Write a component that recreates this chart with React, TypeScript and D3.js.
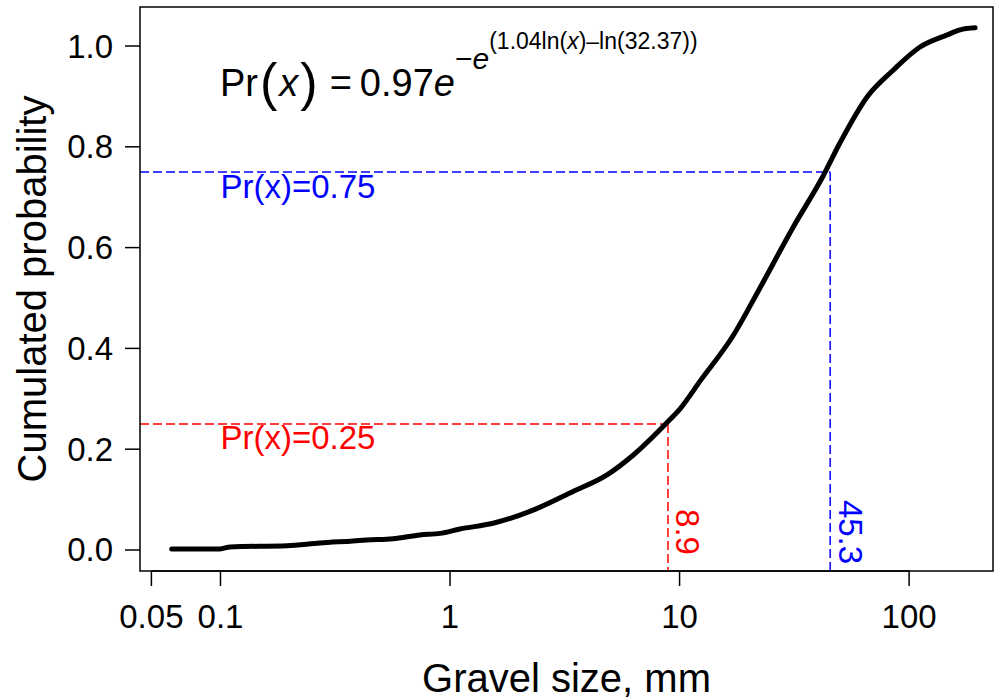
import * as d3 from "d3";
import { useEffect, useRef } from "react";

const gravelSize = [
  0.0613, 0.0995, 0.11, 0.195, 0.2714, 0.378, 0.4347, 0.5646, 0.74, 0.905, 1.105,
  1.539, 2.3, 3.435, 4.83, 6.27, 8.82, 10.05, 12.28, 17.1, 22.4, 31.2, 42.2, 50.0,
  65.6, 85.2, 111.6, 146.5, 166.7, 194,
];
const cumProb = [
  0.002, 0.002, 0.006, 0.0085, 0.0139, 0.0179, 0.0198, 0.0224, 0.0298, 0.033, 0.0417,
  0.053, 0.079, 0.116, 0.149, 0.188, 0.253, 0.28, 0.335, 0.425, 0.52, 0.64, 0.742,
  0.808, 0.899, 0.952, 0.998, 1.022, 1.032, 1.036,
];

const xTicks = [0.05, 0.1, 1, 10, 100];
const xTickLabels = ["0.05", "0.1", "1", "10", "100"];
const yTicks = [0, 0.2, 0.4, 0.6, 0.8, 1.0];

const quantileProbs = [0.25, 0.75];
const quantileSizes = [8.9, 45.3];
const quantileColors = ["#ff0000", "#0000ff"];
const quantileLabels = ["Pr(x)=0.25", "Pr(x)=0.75"];
const quantileTextY = [0.224, 0.722];

const W = 996;
const H = 699;
const left = 140;
const right = 993;
const top = 7;
const bottom = 571;
const font = "'Liberation Sans', Arial, Helvetica, sans-serif";

const App = () => {
  const ref = useRef<SVGSVGElement>(null);

  useEffect(() => {
    const svg = d3.select(ref.current);
    svg.selectAll("*").remove();

    const x = d3.scaleLog().domain([0.0446, 232]).range([left, right]);
    const y = d3.scaleLinear().domain([-0.0417, 1.0774]).range([bottom, top]);

    // quantile guides
    quantileProbs.forEach((p, i) => {
      const col = quantileColors[i];
      const g = svg.append("g").attr("stroke", col).attr("stroke-width", 1.5)
        .attr("stroke-dasharray", "9,4").attr("fill", "none");
      g.append("line").attr("x1", left).attr("x2", x(quantileSizes[i]))
        .attr("y1", y(p)).attr("y2", y(p));
      g.append("line").attr("x1", x(quantileSizes[i])).attr("x2", x(quantileSizes[i]))
        .attr("y1", y(p)).attr("y2", bottom);

      svg.append("text").attr("x", x(0.1)).attr("y", y(quantileTextY[i]))
        .attr("dominant-baseline", "central").attr("fill", col)
        .attr("font-family", font).attr("font-size", 33)
        .text(quantileLabels[i]);

      const tx = x(quantileSizes[i]) + 20;
      const ty = 532;
      svg.append("text").attr("transform", `translate(${tx},${ty}) rotate(90)`)
        .attr("text-anchor", "middle").attr("dominant-baseline", "central")
        .attr("fill", col).attr("font-family", font).attr("font-size", 33)
        .text(String(quantileSizes[i]));
    });

    // curve
    const line = d3.line<number>()
      .x((d, i) => x(gravelSize[i]))
      .y((d) => y(d))
      .curve(d3.curveMonotoneX);
    svg.append("path").datum(cumProb).attr("d", line)
      .attr("fill", "none").attr("stroke", "black").attr("stroke-width", 5)
      .attr("stroke-linejoin", "round").attr("stroke-linecap", "round");

    // box
    svg.append("rect").attr("x", left).attr("y", top)
      .attr("width", right - left).attr("height", bottom - top)
      .attr("fill", "none").attr("stroke", "black").attr("stroke-width", 1.5);

    // x axis
    const xa = svg.append("g").attr("font-family", font);
    xa.append("line").attr("x1", x(xTicks[0])).attr("x2", x(xTicks[xTicks.length - 1]))
      .attr("y1", bottom).attr("y2", bottom).attr("stroke", "black").attr("stroke-width", 1.5);
    xTicks.forEach((t, i) => {
      xa.append("line").attr("x1", x(t)).attr("x2", x(t))
        .attr("y1", bottom).attr("y2", bottom + 15)
        .attr("stroke", "black").attr("stroke-width", 1.5);
      xa.append("text").attr("x", x(t)).attr("y", 628)
        .attr("text-anchor", "middle").attr("font-size", 33).text(xTickLabels[i]);
    });

    // y axis
    const ya = svg.append("g").attr("font-family", font);
    yTicks.forEach((t) => {
      ya.append("line").attr("x1", left - 15).attr("x2", left)
        .attr("y1", y(t)).attr("y2", y(t))
        .attr("stroke", "black").attr("stroke-width", 1.5);
      ya.append("text").attr("x", 113).attr("y", y(t))
        .attr("text-anchor", "end").attr("dominant-baseline", "central")
        .attr("font-size", 33).text(d3.format(".1f")(t));
    });

    svg.append("text").attr("x", (left + right) / 2).attr("y", 692)
      .attr("text-anchor", "middle").attr("font-family", font).attr("font-size", 40)
      .text("Gravel size, mm");
    svg.append("text").attr("transform", `translate(46,${(top + bottom) / 2}) rotate(-90)`)
      .attr("text-anchor", "middle").attr("font-family", font).attr("font-size", 40)
      .text("Cumulated probability");

    // fitted equation
    const eq = svg.append("text").attr("x", 220).attr("y", 96)
      .attr("font-family", font).attr("font-size", 38);
    eq.append("tspan").text("Pr");
    eq.append("tspan").attr("font-size", 52).attr("dy", 4).attr("dx", 2).text("(");
    eq.append("tspan").attr("font-style", "italic").attr("dy", -4).attr("dx", 2).text("x");
    eq.append("tspan").attr("font-size", 52).attr("dy", 4).attr("dx", 2).text(")");
    eq.append("tspan").attr("dy", -4).attr("dx", 12).text("=");
    eq.append("tspan").attr("dx", 8).text("0.97");
    eq.append("tspan").attr("font-style", "italic").text("e");
    eq.append("tspan").attr("font-size", 30).attr("dy", -27).text("\u2212");
    eq.append("tspan").attr("font-size", 30).attr("font-style", "italic").text("e");
    eq.append("tspan").attr("font-size", 23).attr("dy", -20).text("(1.04ln(");
    eq.append("tspan").attr("font-size", 23).attr("font-style", "italic").text("x");
    eq.append("tspan").attr("font-size", 23).text(")\u2013ln(32.37))");
  }, []);

  return (
    <svg ref={ref} width={W} height={H}
      style={{ position: "absolute", left: 0, top: 0, background: "white" }} />
  );
};

export default App;
